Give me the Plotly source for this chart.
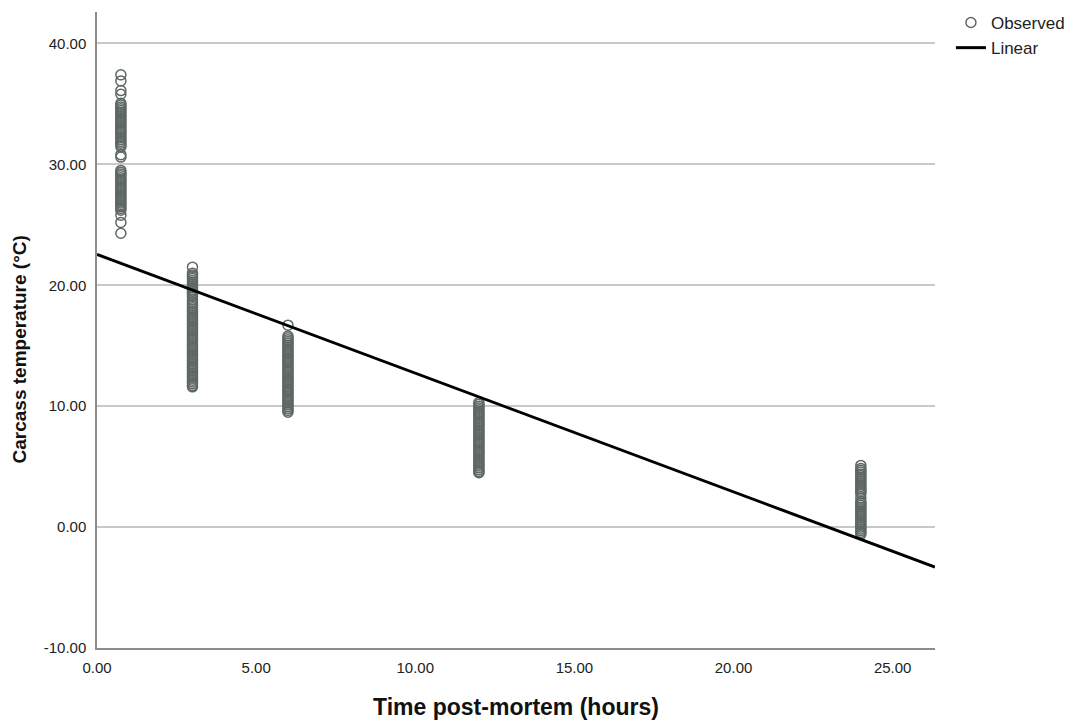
import plotly.graph_objects as go

# Observed carcass temperatures (°C) at each sampling time (hours post-mortem)
temp_t075 = [37.4, 36.9, 36.1, 35.8, 35.05,
             34.9, 34.75, 34.6, 34.45, 34.3, 34.15, 34.0, 33.85, 33.7, 33.55, 33.4,
             33.25, 33.1, 32.95, 32.8, 32.65, 32.5, 32.35, 32.2, 32.05, 31.9, 31.75,
             31.6, 31.45, 30.8, 30.6,
             29.5, 29.35, 29.2, 29.05, 28.9, 28.75, 28.6, 28.45, 28.3, 28.15, 28.0,
             27.85, 27.7, 27.55, 27.4, 27.25, 27.1, 26.95, 26.8, 26.65, 26.5, 26.35,
             26.2, 25.8, 25.2, 24.3]
temp_t3 = [21.5, 21.0, 20.85, 20.7, 20.55, 20.4, 20.25, 20.1, 19.95, 19.8, 19.65,
           19.5, 19.35, 19.2, 19.05, 18.8, 18.6, 18.45, 18.3, 18.15, 18.0, 17.85,
           17.7, 17.55, 17.4, 17.25, 17.1, 16.95, 16.8, 16.65, 16.5, 16.35, 16.2,
           16.05, 15.9, 15.75, 15.6, 15.45, 15.3, 15.15, 15.0, 14.85, 14.7, 14.55,
           14.4, 14.25, 14.1, 13.95, 13.8, 13.65, 13.5, 13.35, 13.2, 13.05, 12.9,
           12.75, 12.6, 12.45, 12.3, 12.15, 12.0, 11.85, 11.7, 11.6]
temp_t6 = [16.7, 15.8, 15.65, 15.5, 15.35, 15.2, 15.05, 14.9, 14.75, 14.6, 14.45,
           14.3, 14.15, 14.0, 13.85, 13.7, 13.55, 13.4, 13.25, 13.1, 12.95, 12.8,
           12.65, 12.5, 12.35, 12.2, 12.05, 11.9, 11.75, 11.6, 11.45, 11.3, 11.15,
           11.0, 10.85, 10.7, 10.55, 10.4, 10.25, 10.1, 9.95, 9.8, 9.65, 9.5]
temp_t12 = [10.3, 10.15, 10.0, 9.85, 9.7, 9.55, 9.4, 9.25, 9.1, 8.95, 8.8, 8.65,
            8.5, 8.35, 8.2, 8.05, 7.9, 7.75, 7.6, 7.45, 7.3, 7.15, 7.0, 6.85, 6.7,
            6.55, 6.4, 6.25, 6.1, 5.95, 5.8, 5.65, 5.5, 5.35, 5.2, 5.05, 4.9, 4.75,
            4.6, 4.5]
temp_t24 = [5.1, 4.85, 4.7, 4.55, 4.4, 4.25, 4.1, 3.95, 3.8, 3.65, 3.5, 3.35, 3.2,
            3.05, 2.9, 2.75, 2.4, 2.1, 1.95, 1.8, 1.65, 1.5, 1.35, 1.2, 1.05, 0.9,
            0.75, 0.6, 0.45, 0.3, 0.15, 0.0, -0.15, -0.3, -0.45, -0.6]

sample_times = [0.75, 3, 6, 12, 24]
groups = [temp_t075, temp_t3, temp_t6, temp_t12, temp_t24]

# Linear fit coefficients
fit_intercept = 22.55
fit_slope = -0.982

x_range = [0, 26.33]
y_range = [-10, 42.6]
y_ticks = [-10, 0, 10, 20, 30, 40]
x_ticks = [0, 5, 10, 15, 20, 25]

obs_x, obs_y = [], []
for t, vals in zip(sample_times, groups):
    obs_x += [t] * len(vals)
    obs_y += vals

line_x = x_range
line_y = [fit_intercept + fit_slope * v for v in line_x]

marker_color = "#5e6863"
font_family = "Liberation Sans, Arial, sans-serif"

fig = go.Figure()
fig.add_trace(go.Scatter(
    x=obs_x, y=obs_y, mode="markers", name="Observed",
    marker=dict(symbol="circle-open", size=10, color=marker_color,
                line=dict(width=1.5, color=marker_color)),
    cliponaxis=False,
))
fig.add_trace(go.Scatter(
    x=line_x, y=line_y, mode="lines", name="Linear",
    line=dict(color="#000000", width=3),
))

fig.update_layout(
    width=1078, height=722,
    margin=dict(l=97, r=143, t=12, b=74, autoexpand=False),
    paper_bgcolor="white", plot_bgcolor="white",
    font=dict(family=font_family, size=15, color="#222222"),
    legend=dict(x=1.019, y=1.011, xanchor="left", yanchor="top",
                font=dict(size=17, color="#222222"),
                bgcolor="rgba(0,0,0,0)", itemwidth=30),
    xaxis=dict(
        range=x_range, tickvals=x_ticks,
        ticktext=[f"{v:.2f}" for v in x_ticks],
        showgrid=False, zeroline=False,
        showline=True, linecolor="#8c8c8c", linewidth=1.5,
        ticks="outside", ticklen=5, tickcolor="rgba(0,0,0,0)",
        title=dict(text="<b>Time post-mortem (hours)</b>",
                   font=dict(size=23, color="#111111"), standoff=24),
    ),
    yaxis=dict(
        range=y_range, tickvals=y_ticks,
        ticktext=[f"{v:.2f}" for v in y_ticks],
        showgrid=True, gridcolor="#c8c8c8", gridwidth=1.5, zeroline=False,
        showline=True, linecolor="#8c8c8c", linewidth=1.5,
        ticks="outside", ticklen=6, tickcolor="rgba(0,0,0,0)",
    ),
    annotations=[dict(
        text="<b>Carcass temperature (°C)</b>", textangle=-90,
        xref="paper", yref="paper", x=-0.093, y=0.4695,
        xanchor="center", yanchor="middle", showarrow=False,
        font=dict(size=19, color="#111111"),
    )],
)

fig.write_html("out.html")
